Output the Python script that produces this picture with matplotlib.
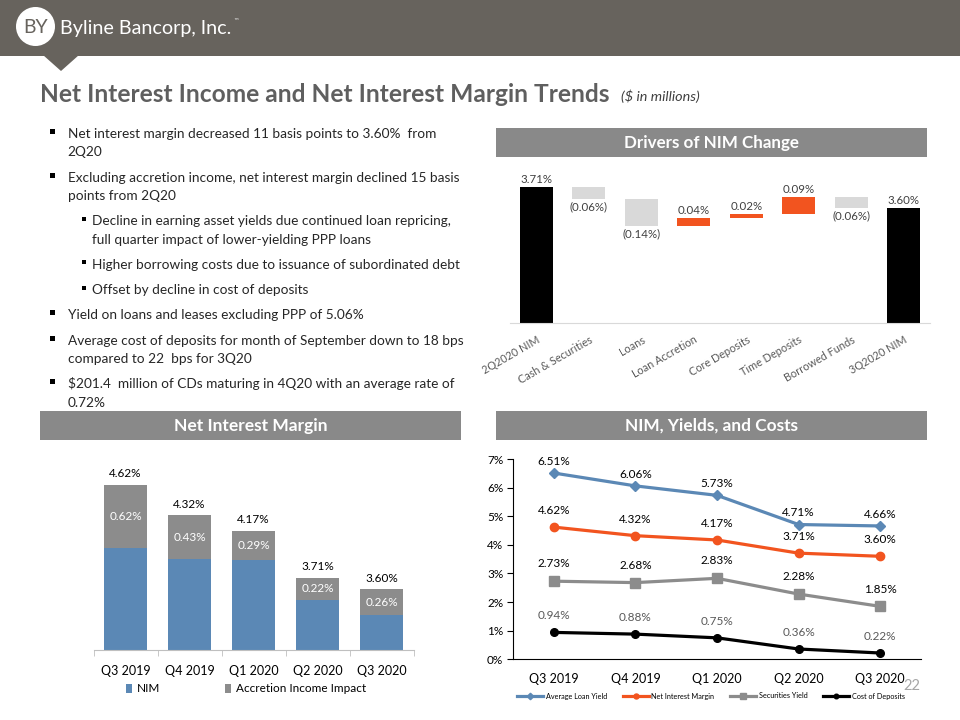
import matplotlib
matplotlib.use('Agg')
import matplotlib.pyplot as plt
from matplotlib.patches import Rectangle, Polygon, Circle
import numpy as np

plt.rcParams['font.family'] = ['Lato', 'DejaVu Sans']

# ---------------- data ----------------
wf_categories = ['2Q2020 NIM', 'Cash & Securities', 'Loans', 'Loan Accretion',
                 'Core Deposits', 'Time Deposits', 'Borrowed Funds', '3Q2020 NIM']
wf_start = 3.71
wf_deltas = [-0.06, -0.14, 0.04, 0.02, 0.09, -0.06]
wf_end = 3.60

quarters = ['Q3 2019', 'Q4 2019', 'Q1 2020', 'Q2 2020', 'Q3 2020']
nim_total = [4.62, 4.32, 4.17, 3.71, 3.60]
accretion_impact = [0.62, 0.43, 0.29, 0.22, 0.26]

avg_loan_yield = [6.51, 6.06, 5.73, 4.71, 4.66]
net_interest_margin = [4.62, 4.32, 4.17, 3.71, 3.60]
securities_yield = [2.73, 2.68, 2.83, 2.28, 1.85]
cost_of_deposits = [0.94, 0.88, 0.75, 0.36, 0.22]

bullets = [
    (0, ["Net interest margin decreased 11 basis points to 3.60%  from", "2Q20"]),
    (0, ["Excluding accretion income, net interest margin declined 15 basis", "points from 2Q20"]),
    (1, ["Decline in earning asset yields due continued loan repricing,",
         "full quarter impact of lower-yielding PPP loans"]),
    (1, ["Higher borrowing costs due to issuance of subordinated debt"]),
    (1, ["Offset by decline in cost of deposits"]),
    (0, ["Yield on loans and leases excluding PPP of 5.06%"]),
    (0, ["Average cost of deposits for month of September down to 18 bps",
         "compared to 22  bps for 3Q20"]),
    (0, ["$201.4  million of CDs maturing in 4Q20 with an average rate of", "0.72%"]),
]

# ---------------- styles ----------------
BANNER = '#67635d'
HDR = '#898989'
BLUE = '#5b88b5'
ORANGE = '#f2541f'
LGRAY = '#d9d9d9'
MGRAY = '#8c8c8c'
TXT = '#262626'

W, H = 960, 720
fig = plt.figure(figsize=(9.6, 7.2), dpi=100)
renderer = fig.canvas.get_renderer()

bg = fig.add_axes([0, 0, 1, 1])
bg.set_xlim(0, W)
bg.set_ylim(H, 0)
bg.axis('off')


def fit_size(s, target_w, **kw):
    t = bg.text(0, 0, s, fontsize=10, **kw)
    w = t.get_window_extent(renderer).width
    t.remove()
    return 10 * target_w / w


def fax(left, top, right, bottom):
    return fig.add_axes([left / W, 1 - bottom / H, (right - left) / W, (bottom - top) / H])


# banner
bg.add_patch(Rectangle((0, 0), W, 55.5, color=BANNER, lw=0))
bg.add_patch(Polygon([[43, 55], [79, 55], [61, 71]], closed=True, color=BANNER, lw=0))
bg.add_patch(Circle((35.5, 26.5), 19.5, color='white', lw=0))
bg.text(35.5, 27.5, 'BY', ha='center', va='center', fontsize=14, color=BANNER)
brand = 'Byline Bancorp, Inc.'
bg.text(60, 34, brand, ha='left', va='baseline', color='white',
        fontsize=fit_size(brand, 172))
bg.text(233, 21, '™', fontsize=4, color='white', ha='left', va='center',
        family=['DejaVu Sans'])

# title
title = 'Net Interest Income and Net Interest Margin Trends'
bg.text(40, 101.5, title, ha='left', va='baseline', color='#5f5f5f', fontweight='bold',
        fontsize=fit_size(title, 572, fontweight='bold'))
bg.text(621, 101.5, '($ in millions)', ha='left', va='baseline', color='#404040',
        style='italic', fontsize=fit_size('($ in millions)', 79, style='italic'))

# bullets
bsize = fit_size("Excluding accretion income, net interest margin declined 15 basis", 389)
y = 138.0
for lvl, lines in bullets:
    bx = 50 if lvl == 0 else 81.5
    tx = 67.5 if lvl == 0 else 91.5
    sq = 5 if lvl == 0 else 4.2
    bg.add_patch(Rectangle((bx, y - 6.5 - sq / 2), sq, sq, color='black', lw=0))
    for ln in lines:
        bg.text(tx, y, ln, ha='left', va='baseline', fontsize=bsize, color=TXT)
        y += 18.3
    y += 7.0

# section header bars
for (x0, y0, w, h, s, tw) in [
        (496, 128, 431, 29, 'Drivers of NIM Change', 175),
        (40, 411, 421, 29, 'Net Interest Margin', 156),
        (496, 411, 431, 29, 'NIM, Yields, and Costs', 174)]:
    bg.add_patch(Rectangle((x0, y0), w, h, color=HDR, lw=0))
    bg.text(x0 + w / 2, y0 + h / 2 + 0.5, s, ha='center', va='center', color='white',
            fontweight='bold', fontsize=min(12.5, fit_size(s, tw, fontweight='bold')))

# ---------------- waterfall ----------------
base = 3.0
ax1 = fax(510, 174, 930, 323)
levels = [wf_start]
for d in wf_deltas:
    levels.append(levels[-1] + d)
bw = 0.63
ax1.bar(0, wf_start - base, bottom=base, width=bw, color='black')
ax1.text(0, wf_start + 0.015, f'{wf_start:.2f}%', ha='center', va='bottom', fontsize=8.3, color='#404040')
for i, d in enumerate(wf_deltas):
    lo = min(levels[i], levels[i + 1])
    hi = max(levels[i], levels[i + 1])
    ax1.bar(i + 1, abs(d), bottom=lo, width=bw, color=ORANGE if d > 0 else LGRAY)
    if d > 0:
        ax1.text(i + 1, hi + 0.012, f'{d:.2f}%', ha='center', va='bottom', fontsize=8.3, color='#404040')
    else:
        ax1.text(i + 1, lo - 0.012, f'({abs(d):.2f}%)', ha='center', va='top', fontsize=8.3, color='#404040')
ax1.bar(7, wf_end - base, bottom=base, width=bw, color='black')
ax1.text(7, wf_end + 0.015, f'{wf_end:.2f}%', ha='center', va='bottom', fontsize=8.3, color='#404040')
ax1.set_xlim(-0.5, 7.5)
ax1.set_ylim(base, 3.78)
ax1.set_yticks([])
for s in ['top', 'right', 'left']:
    ax1.spines[s].set_visible(False)
ax1.spines['bottom'].set_color(LGRAY)
ax1.set_xticks(range(len(wf_categories)))
ax1.set_xticklabels(wf_categories, rotation=30, ha='right', rotation_mode='anchor',
                    fontsize=7.8, color='#595959')
ax1.tick_params(axis='x', length=0, pad=8)
ax1.patch.set_alpha(0)

# ---------------- stacked NIM bars ----------------
ax2 = fax(93.5, 456, 413.5, 650)
xq = np.arange(len(quarters))
core = [t - a for t, a in zip(nim_total, accretion_impact)]
ax2.bar(xq, [c - base for c in core], bottom=base, width=0.67, color=BLUE, label='NIM')
ax2.bar(xq, accretion_impact, bottom=core, width=0.67, color=MGRAY, label='Accretion Income Impact')
for i in range(len(quarters)):
    ax2.text(xq[i], nim_total[i] + 0.05, f'{nim_total[i]:.2f}%', ha='center', va='bottom',
             fontsize=8.5, color='black')
    ax2.text(xq[i], core[i] + accretion_impact[i] / 2, f'{accretion_impact[i]:.2f}%',
             ha='center', va='center', fontsize=8.5, color='white')
ax2.set_xlim(-0.5, 4.5)
ax2.set_ylim(base, 4.9)
ax2.set_yticks([])
for s in ['top', 'right', 'left']:
    ax2.spines[s].set_visible(False)
ax2.spines['bottom'].set_color('#bfbfbf')
ax2.set_xticks(xq)
ax2.set_xticklabels(quarters, fontsize=9, color='black')
ax2.set_xticks(np.arange(-0.5, 5, 1), minor=True)
ax2.tick_params(axis='x', which='major', length=0, pad=11)
ax2.tick_params(axis='x', which='minor', length=4, color='#bfbfbf')
ax2.legend(loc='center', bbox_to_anchor=(246 / W, 1 - 689 / H), bbox_transform=fig.transFigure,
           ncol=2, frameon=False, fontsize=8.5, handlelength=0.5, handleheight=0.75,
           handletextpad=0.4, columnspacing=5.5)
ax2.patch.set_alpha(0)

# ---------------- lines chart ----------------
ax3 = fax(513, 459, 921, 659.3)
series = [
    ('Average Loan Yield', avg_loan_yield, BLUE, 'D', 5.5, 'black', 8.5),
    ('Net Interest Margin', net_interest_margin, ORANGE, 'o', 6, 'black', 12),
    ('Securities Yield', securities_yield, MGRAY, 's', 6.5, 'black', 12.5),
    ('Cost of Deposits', cost_of_deposits, 'black', 'o', 5.5, '#595959', 12),
]
for name, vals, col, mk, ms, lcol, off in series:
    ax3.plot(xq, vals, color=col, marker=mk, ms=ms, lw=2.3, label=name)
    for i, v in enumerate(vals):
        ax3.annotate(f'{v:.2f}%', (xq[i], v), xytext=(0, off), textcoords='offset points',
                     ha='center', va='center', fontsize=8.5, color=lcol)
ax3.set_xlim(-0.5, 4.5)
ax3.set_ylim(0, 7)
ax3.set_yticks(range(8))
ax3.set_yticklabels([f'{i}%' for i in range(8)], fontsize=8.5)
ax3.set_xticks(xq)
ax3.set_xticklabels(quarters, fontsize=9)
ax3.tick_params(axis='x', length=0, pad=10)
ax3.tick_params(axis='y', length=4, direction='out', pad=3)
for s in ['top', 'right']:
    ax3.spines[s].set_visible(False)
ax3.patch.set_alpha(0)
ax3.legend(loc='center', bbox_to_anchor=(711 / W, 1 - 696 / H), bbox_transform=fig.transFigure,
           ncol=4, frameon=False, fontsize=5.2, handlelength=3.6, handletextpad=0.35,
           columnspacing=2.2, markerscale=0.6)

bg.text(912, 686, '22', ha='center', va='center', fontsize=10.5, color='#a6a6a6')

fig.savefig('out.png', dpi=100)
